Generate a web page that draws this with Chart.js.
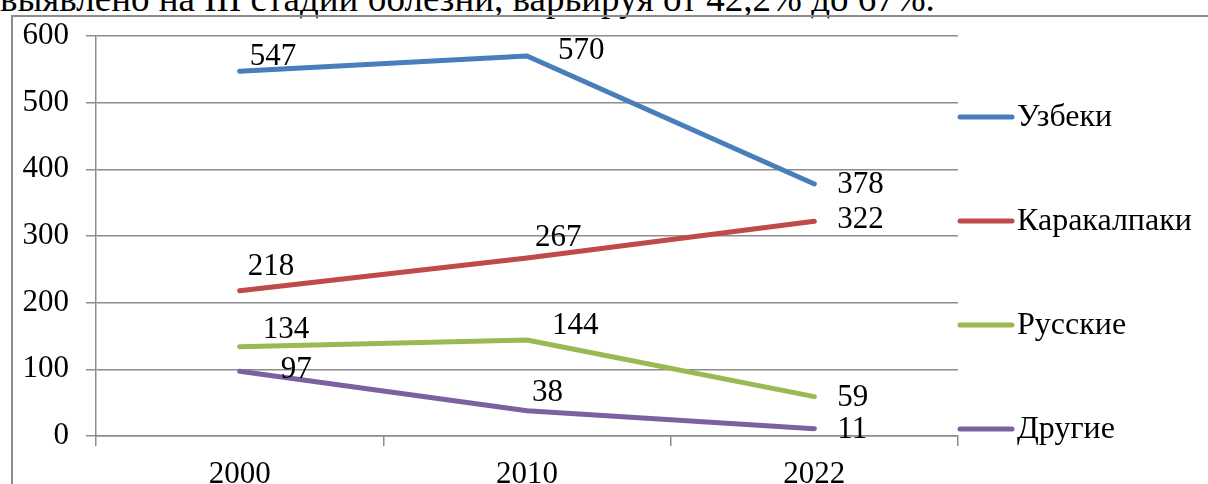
<!DOCTYPE html>
<html>
<head>
<meta charset="utf-8">
<script src="https://cdn.jsdelivr.net/npm/chart.js@4"></script>
<style>
  body { margin: 0; background: #fff; }
  #wrap { position: relative; width: 1208px; height: 484px; overflow: hidden; }
  #caption {
    position: absolute; left: 0; top: -21px; white-space: nowrap;
    font-family: "Liberation Serif", serif; font-size: 37px; line-height: 40px; color: #000;
  }
  #frame {
    position: absolute; left: 11px; top: 15px; width: 1300px; height: 600px;
    border-left: 2px solid #8c8c8c; border-top: 2px solid #8c8c8c;
  }
  canvas { position: absolute; left: 0; top: 0; }
</style>
</head>
<body>
<div id="wrap">
  <div id="caption">выявлено на III стадии болезни, варьируя от 42,2% до 67%.</div>
  <div id="frame"></div>
  <canvas id="chart" width="1208" height="484"></canvas>
</div>
<script>
// Data
const years = ['2000', '2010', '2022'];
const seriesNames = ['Узбеки', 'Каракалпаки', 'Русские', 'Другие'];
const uzbeks = [547, 570, 378];
const karakalpaks = [218, 267, 322];
const russians = [134, 144, 59];
const others = [97, 38, 11];
const yTicks = [0, 100, 200, 300, 400, 500, 600];

const colors = ['#4a7ebb', '#be4b48', '#98b954', '#7d60a0'];

// label offsets from the point: [dx to left edge, dy to text middle]
const labelOffsets = [
    [[10, -14], [31, -5], [23, 1]],
    [[8, -24], [8, -20], [23, -1]],
    [[23, -17], [25, -14], [23, 1]],
    [[41, -1], [5, -18], [23, 1]]
];

const serif = 'Liberation Serif, serif';
const fontSize = 31;
const legendFontSize = 32;

// Draws the value labels next to each point
const valueLabels = {
    id: 'valueLabels',
    afterDatasetsDraw(chart) {
        const ctx = chart.ctx;
        ctx.save();
        ctx.font = fontSize + 'px ' + serif;
        ctx.fillStyle = '#000';
        ctx.textAlign = 'left';
        ctx.textBaseline = 'middle';
        chart.data.datasets.forEach((ds, i) => {
            chart.getDatasetMeta(i).data.forEach((pt, j) => {
                const off = labelOffsets[i][j];
                ctx.fillText(String(ds.data[j]), pt.x + off[0], pt.y + off[1]);
            });
        });
        ctx.restore();
    }
};

// Legend on the right, like the Word one
const sideLegend = {
    id: 'sideLegend',
    afterDraw(chart) {
        const ctx = chart.ctx;
        const area = chart.chartArea;
        const x0 = area.right;
        const step = 104;
        const firstY = 117;
        ctx.save();
        ctx.font = legendFontSize + 'px ' + serif;
        ctx.textBaseline = 'middle';
        chart.data.datasets.forEach((ds, i) => {
            const y = firstY + step * i;
            ctx.strokeStyle = ds.borderColor;
            ctx.lineWidth = 5;
            ctx.lineCap = 'round';
            ctx.beginPath();
            ctx.moveTo(x0 + 2, y);
            ctx.lineTo(x0 + 54, y);
            ctx.stroke();
            ctx.fillStyle = '#000';
            ctx.fillText(ds.label, x0 + 59, y + 1);
        });
        ctx.restore();
    }
};

const allSeries = [uzbeks, karakalpaks, russians, others];

new Chart(document.getElementById('chart').getContext('2d'), {
    type: 'line',
    data: {
        labels: years,
        datasets: allSeries.map((vals, i) => ({
            label: seriesNames[i],
            data: vals,
            borderColor: colors[i],
            backgroundColor: colors[i],
            borderWidth: 5,
            borderCapStyle: 'round',
            borderJoinStyle: 'round',
            pointRadius: 0,
            tension: 0
        }))
    },
    options: {
        responsive: false,
        animation: false,
        layout: { padding: { left: 0, top: 36, right: 250, bottom: 0 } },
        plugins: {
            legend: { display: false },
            tooltip: { enabled: false }
        },
        scales: {
            x: {
                offset: true,
                afterFit: s => { s.height = 48; },
                grid: {
                    offset: true,
                    drawOnChartArea: false,
                    drawTicks: true,
                    tickLength: 10,
                    color: '#8c8c8c',
                    lineWidth: 1.5
                },
                border: { color: '#8c8c8c', width: 1.5 },
                ticks: {
                    color: '#000',
                    font: { family: serif, size: fontSize },
                    padding: 10,
                    maxRotation: 0
                }
            },
            y: {
                min: 0,
                max: 600,
                afterFit: s => { s.width = 96; },
                afterBuildTicks: s => { s.ticks = yTicks.map(v => ({ value: v })); },
                grid: {
                    color: '#8c8c8c',
                    lineWidth: 1.5,
                    tickLength: 10
                },
                border: { color: '#8c8c8c', width: 1.5 },
                ticks: {
                    color: '#000',
                    font: { family: serif, size: fontSize },
                    padding: 17
                }
            }
        }
    },
    plugins: [valueLabels, sideLegend]
});
</script>
</body>
</html>
